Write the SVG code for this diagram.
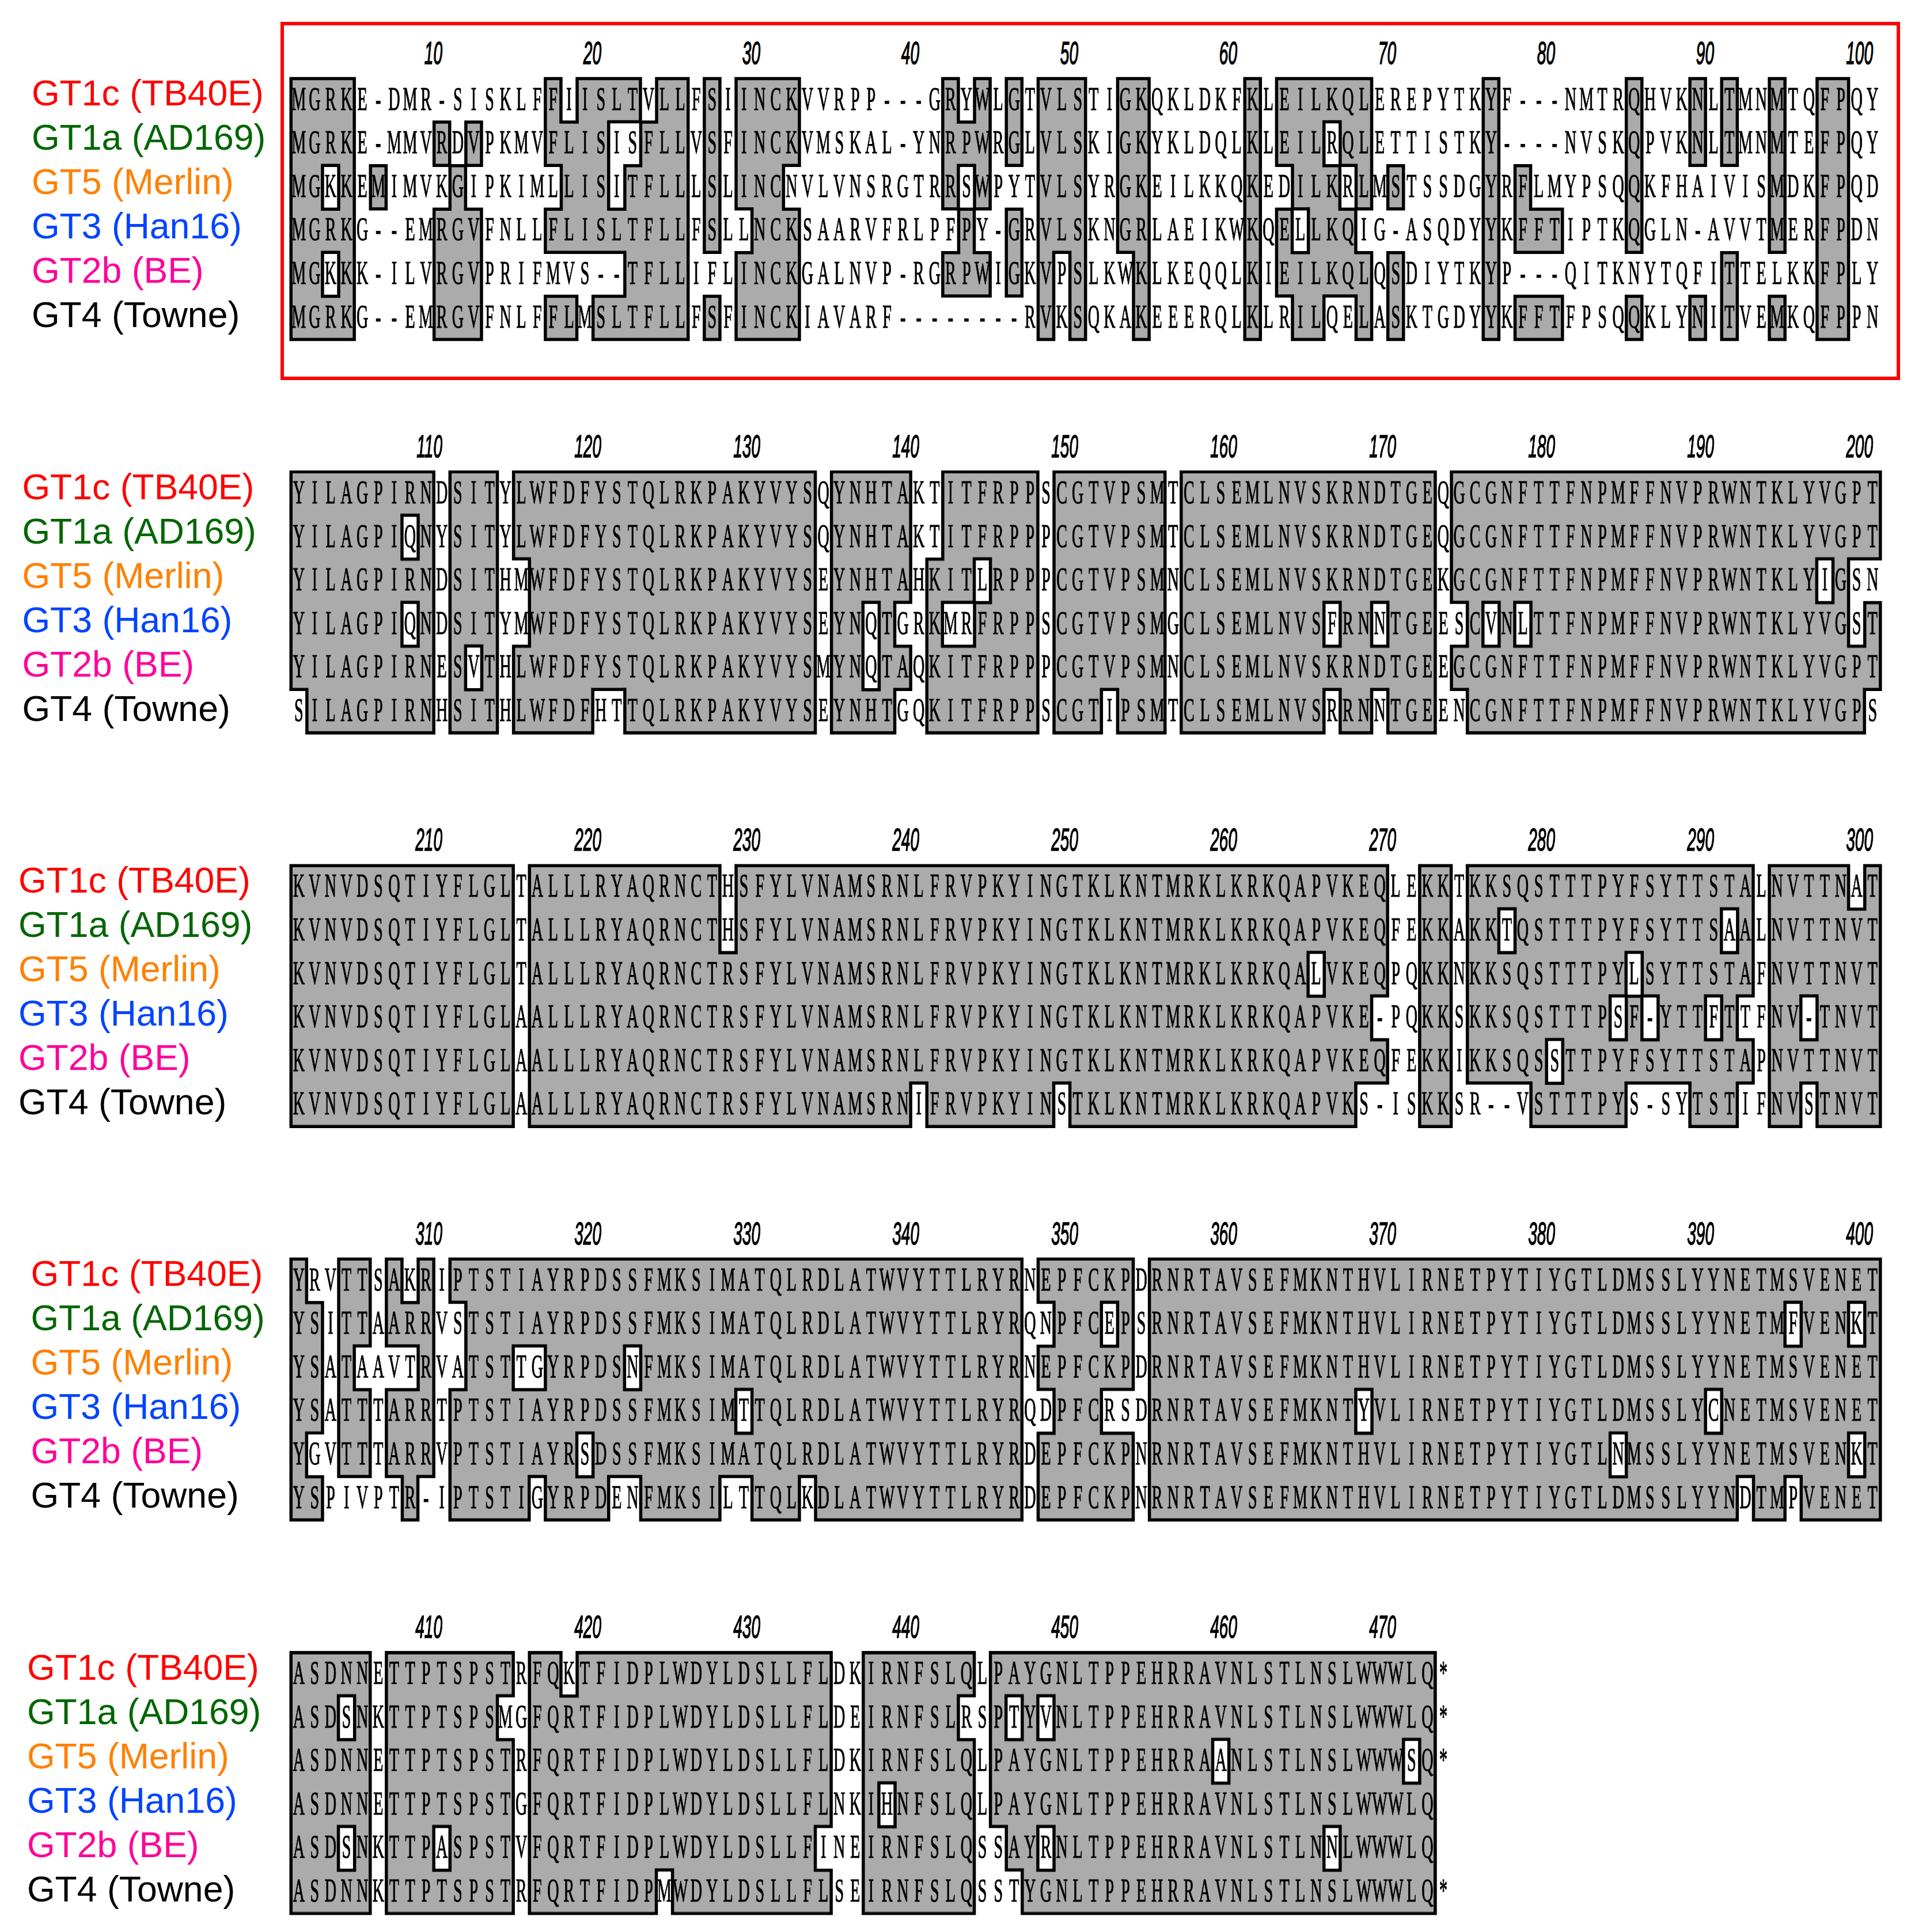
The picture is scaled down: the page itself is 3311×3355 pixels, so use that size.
<svg xmlns="http://www.w3.org/2000/svg" xmlns:xlink="http://www.w3.org/1999/xlink" width="3311" height="3355" viewBox="0 0 3311 3355">
<style>
.seq{font-family:"Liberation Serif","Times New Roman",serif;font-size:56px;fill:#000;stroke:#000;stroke-width:1.2;text-anchor:middle}
.num{font-family:"Liberation Sans",Arial,sans-serif;font-size:56px;font-style:italic;text-anchor:end;fill:#000;stroke:#000;stroke-width:1.6}
.lab{font-family:"Liberation Sans",Arial,sans-serif;font-size:62.5px}
.ol{fill:#000;stroke:#000;stroke-width:5;stroke-linejoin:miter}
.fi{fill:#ABABAB}
</style>
<defs>
<filter id="er" filterUnits="userSpaceOnUse" x="0" y="0" width="3311" height="3355"><feMorphology operator="erode" radius="2.5"/></filter>
<path id="s1" vector-effect="non-scaling-stroke" d="M0 0h2v6h-2z M2 0h1v2h-1z M2 3h1v1h-1z M2 5h1v1h-1z M3 0h1v6h-1z M5 2h1v1h-1z M9 1h1v1h-1z M9 3h1v3h-1z M10 2h1v4h-1z M11 1h1v1h-1z M11 3h1v3h-1z M16 0h1v2h-1z M16 3h1v1h-1z M16 5h1v1h-1z M17 1h1v3h-1z M17 5h1v1h-1z M18 0h1v4h-1z M19 0h1v4h-1z M19 5h1v1h-1z M20 0h1v1h-1z M20 3h1v1h-1z M20 5h1v1h-1z M21 0h1v1h-1z M21 2h1v4h-1z M22 1h1v5h-1z M23 0h2v6h-2z M26 0h1v4h-1z M26 5h1v1h-1z M28 0h1v3h-1z M28 4h1v2h-1z M29 0h2v6h-2z M31 0h1v2h-1z M31 3h1v3h-1z M41 0h1v3h-1z M41 4h1v1h-1z M42 1h1v1h-1z M42 3h1v2h-1z M43 0h1v3h-1z M43 4h1v1h-1z M45 0h1v2h-1z M45 3h1v2h-1z M47 0h1v6h-1z M48 0h1v4h-1z M49 0h1v6h-1z M52 0h1v4h-1z M53 0h1v6h-1z M60 0h1v6h-1z M62 0h1v2h-1z M62 3h1v2h-1z M63 0h1v3h-1z M63 4h1v2h-1z M64 0h1v6h-1z M65 0h1v1h-1z M65 2h1v3h-1z M66 0h1v2h-1z M66 3h1v2h-1z M67 0h1v3h-1z M67 4h1v2h-1z M69 2h1v1h-1z M69 4h1v2h-1z M75 0h1v6h-1z M77 2h1v2h-1z M77 5h1v1h-1z M78 3h2v1h-2z M78 5h2v1h-2z M84 0h1v4h-1z M84 5h1v1h-1z M88 0h1v2h-1z M88 5h1v1h-1z M90 0h1v2h-1z M90 4h1v2h-1z M93 0h1v4h-1z M93 5h1v1h-1z M96 0h2v6h-2z"/>
<path id="s2" vector-effect="non-scaling-stroke" d="M0 0h1v5h-1z M1 0h6v6h-6z M7 0h1v1h-1z M7 2h1v1h-1z M7 4h1v2h-1z M8 0h1v6h-1z M10 0h1v6h-1z M11 0h1v4h-1z M11 5h1v1h-1z M12 0h1v6h-1z M14 0h1v2h-1z M14 4h1v2h-1z M15 0h4v6h-4z M19 0h2v5h-2z M21 0h12v6h-12z M34 0h2v6h-2z M36 0h1v3h-1z M36 5h1v1h-1z M37 0h1v6h-1z M38 0h1v3h-1z M38 4h1v1h-1z M40 2h1v4h-1z M41 0h2v3h-2z M41 4h2v2h-2z M43 0h1v2h-1z M43 3h1v3h-1z M44 0h3v6h-3z M48 0h3v6h-3z M51 0h1v5h-1z M52 0h3v6h-3z M56 0h9v6h-9z M65 0h1v3h-1z M65 4h1v1h-1z M66 0h2v6h-2z M68 0h1v3h-1z M68 4h1v1h-1z M69 0h3v6h-3z M73 0h1v3h-1z M73 4h1v1h-1z M74 0h1v6h-1z M75 0h1v3h-1z M75 4h1v2h-1z M76 0h1v6h-1z M77 0h1v3h-1z M77 4h1v2h-1z M78 0h18v6h-18z M96 0h1v2h-1z M96 3h1v3h-1z M97 0h1v6h-1z M98 0h1v2h-1z M98 4h1v2h-1z M99 0h1v2h-1z M99 3h1v2h-1z"/>
<path id="s3" vector-effect="non-scaling-stroke" d="M0 0h14v6h-14z M15 0h12v6h-12z M27 2h1v4h-1z M28 0h11v6h-11z M39 0h1v5h-1z M40 0h8v6h-8z M48 0h1v5h-1z M49 0h15v6h-15z M64 0h1v2h-1z M64 3h1v3h-1z M65 0h2v6h-2z M67 0h1v5h-1z M68 0h1v3h-1z M68 4h1v1h-1z M71 0h2v6h-2z M74 0h2v5h-2z M76 0h1v1h-1z M76 2h1v3h-1z M77 0h1v5h-1z M78 0h1v6h-1z M79 0h1v4h-1z M79 5h1v1h-1z M80 0h3v6h-3z M83 0h1v3h-1z M83 4h1v2h-1z M84 0h1v2h-1z M84 3h1v2h-1z M85 0h1v3h-1z M85 4h1v1h-1z M86 0h2v5h-2z M88 0h1v6h-1z M89 0h1v3h-1z M89 4h1v2h-1z M90 0h1v1h-1z M90 2h1v4h-1z M91 0h1v3h-1z M91 4h1v1h-1z M93 0h2v6h-2z M95 0h1v3h-1z M95 4h1v1h-1z M96 0h2v6h-2z M98 1h1v5h-1z M99 0h1v6h-1z"/>
<path id="s4" vector-effect="non-scaling-stroke" d="M0 0h1v6h-1z M1 1h1v3h-1z M1 5h1v1h-1z M3 0h1v5h-1z M4 0h1v2h-1z M4 3h1v2h-1z M6 0h1v2h-1z M6 3h1v2h-1z M7 1h1v1h-1z M7 3h1v3h-1z M8 0h1v5h-1z M10 0h1v1h-1z M10 3h1v3h-1z M11 0h3v6h-3z M14 0h1v2h-1z M14 3h1v3h-1z M15 0h1v2h-1z M15 3h1v2h-1z M16 0h2v6h-2z M18 0h1v4h-1z M18 5h1v1h-1z M19 0h1v6h-1z M20 0h1v5h-1z M21 0h1v2h-1z M21 3h1v2h-1z M22 0h5v6h-5z M27 0h1v5h-1z M28 0h1v3h-1z M28 4h1v1h-1z M29 0h3v6h-3z M32 0h1v5h-1z M33 0h13v6h-13z M47 0h1v1h-1z M47 2h1v1h-1z M47 4h1v2h-1z M48 0h3v6h-3z M51 0h1v1h-1z M51 2h1v1h-1z M51 4h1v2h-1z M52 0h1v3h-1z M52 4h1v2h-1z M54 0h13v6h-13z M67 0h1v3h-1z M67 4h1v2h-1z M68 0h15v6h-15z M83 0h1v4h-1z M83 5h1v1h-1z M84 0h5v6h-5z M89 0h1v3h-1z M89 4h1v2h-1z M90 0h1v6h-1z M91 0h1v5h-1z M92 0h2v6h-2z M94 0h1v1h-1z M94 2h1v3h-1z M95 0h3v6h-3z M98 0h1v1h-1z M98 2h1v2h-1z M98 5h1v1h-1z M99 0h1v6h-1z"/>
<path id="s5" vector-effect="non-scaling-stroke" d="M0 0h3v6h-3z M3 0h1v1h-1z M3 2h1v2h-1z M3 5h1v1h-1z M4 0h1v6h-1z M6 0h3v6h-3z M9 0h1v4h-1z M9 5h1v1h-1z M10 0h3v6h-3z M13 0h1v1h-1z M13 2h1v4h-1z M15 0h2v6h-2z M17 1h1v5h-1z M18 0h5v6h-5z M23 0h1v5h-1z M24 0h9v6h-9z M33 0h1v4h-1z M33 5h1v1h-1z M36 0h1v6h-1z M37 0h1v3h-1z M37 4h1v2h-1z M38 0h4v6h-4z M42 0h1v1h-1z M42 2h1v4h-1z M44 0h1v4h-1z M45 0h1v1h-1z M45 2h1v3h-1z M46 0h1v6h-1z M47 0h1v1h-1z M47 2h1v2h-1z M47 5h1v1h-1z M48 0h10v6h-10z M58 0h1v2h-1z M58 3h1v3h-1z M59 0h6v6h-6z M65 0h1v4h-1z M65 5h1v1h-1z M66 0h4v6h-4z M70 0h1v2h-1z M70 3h1v3h-1z M71 0h1v6h-1z"/>
</defs>
<rect width="3311" height="3355" fill="#fff"/>
<rect id="highlight-box" x="490" y="41" width="2806" height="616" fill="none" stroke="#FF0000" stroke-width="6"/>
<g id="shading">
<g id="shading-outline" class="ol">
<use href="#s1" transform="translate(505,136.2) scale(27.6,75.6)"/>
<use href="#s2" transform="translate(505,819.5) scale(27.6,75.6)"/>
<use href="#s3" transform="translate(505,1502.9) scale(27.6,75.6)"/>
<use href="#s4" transform="translate(505,2186.2) scale(27.6,75.6)"/>
<use href="#s5" transform="translate(505,2869.5) scale(27.6,75.6)"/>
</g>
<g id="shading-fill" class="fi" filter="url(#er)">
<use href="#s1" transform="translate(505,136.2) scale(27.6,75.6)"/>
<use href="#s2" transform="translate(505,819.5) scale(27.6,75.6)"/>
<use href="#s3" transform="translate(505,1502.9) scale(27.6,75.6)"/>
<use href="#s4" transform="translate(505,2186.2) scale(27.6,75.6)"/>
<use href="#s5" transform="translate(505,2869.5) scale(27.6,75.6)"/>
</g>
</g>
<g id="labels">
<g id="labels1" class="lab" transform="translate(55,183.2)">
<text y="0" fill="#FF0000">GT1c (TB40E)</text><text y="77" fill="#006600">GT1a (AD169)</text><text y="154" fill="#FF8000">GT5 (Merlin)</text><text y="231" fill="#0044FF">GT3 (Han16)</text><text y="308" fill="#FF0099">GT2b (BE)</text><text y="385" fill="#000">GT4 (Towne)</text>
</g>
<g id="labels2" class="lab" transform="translate(38.5,866.5)">
<text y="0" fill="#FF0000">GT1c (TB40E)</text><text y="77" fill="#006600">GT1a (AD169)</text><text y="154" fill="#FF8000">GT5 (Merlin)</text><text y="231" fill="#0044FF">GT3 (Han16)</text><text y="308" fill="#FF0099">GT2b (BE)</text><text y="385" fill="#000">GT4 (Towne)</text>
</g>
<g id="labels3" class="lab" transform="translate(32,1549.9)">
<text y="0" fill="#FF0000">GT1c (TB40E)</text><text y="77" fill="#006600">GT1a (AD169)</text><text y="154" fill="#FF8000">GT5 (Merlin)</text><text y="231" fill="#0044FF">GT3 (Han16)</text><text y="308" fill="#FF0099">GT2b (BE)</text><text y="385" fill="#000">GT4 (Towne)</text>
</g>
<g id="labels4" class="lab" transform="translate(53.5,2233.2)">
<text y="0" fill="#FF0000">GT1c (TB40E)</text><text y="77" fill="#006600">GT1a (AD169)</text><text y="154" fill="#FF8000">GT5 (Merlin)</text><text y="231" fill="#0044FF">GT3 (Han16)</text><text y="308" fill="#FF0099">GT2b (BE)</text><text y="385" fill="#000">GT4 (Towne)</text>
</g>
<g id="labels5" class="lab" transform="translate(47,2916.5)">
<text y="0" fill="#FF0000">GT1c (TB40E)</text><text y="77" fill="#006600">GT1a (AD169)</text><text y="154" fill="#FF8000">GT5 (Merlin)</text><text y="231" fill="#0044FF">GT3 (Han16)</text><text y="308" fill="#FF0099">GT2b (BE)</text><text y="385" fill="#000">GT4 (Towne)</text>
</g>
</g>
<g id="ruler">
<g class="num" transform="translate(0,110.7) scale(0.5,1)"><text x="1536">10</text><text x="2088">20</text><text x="2640">30</text><text x="3192">40</text><text x="3744">50</text><text x="4296">60</text><text x="4848">70</text><text x="5400">80</text><text x="5952">90</text><text x="6504">100</text></g>
<g class="num" transform="translate(0,794) scale(0.5,1)"><text x="1536">110</text><text x="2088">120</text><text x="2640">130</text><text x="3192">140</text><text x="3744">150</text><text x="4296">160</text><text x="4848">170</text><text x="5400">180</text><text x="5952">190</text><text x="6504">200</text></g>
<g class="num" transform="translate(0,1477.4) scale(0.5,1)"><text x="1536">210</text><text x="2088">220</text><text x="2640">230</text><text x="3192">240</text><text x="3744">250</text><text x="4296">260</text><text x="4848">270</text><text x="5400">280</text><text x="5952">290</text><text x="6504">300</text></g>
<g class="num" transform="translate(0,2160.7) scale(0.5,1)"><text x="1536">310</text><text x="2088">320</text><text x="2640">330</text><text x="3192">340</text><text x="3744">350</text><text x="4296">360</text><text x="4848">370</text><text x="5400">380</text><text x="5952">390</text><text x="6504">400</text></g>
<g class="num" transform="translate(0,2844) scale(0.5,1)"><text x="1536">410</text><text x="2088">420</text><text x="2640">430</text><text x="3192">440</text><text x="3744">450</text><text x="4296">460</text><text x="4848">470</text></g>
</g>
<g id="sequences">
<g id="seq1" class="seq" transform="translate(518.8,136.2) scale(0.50182,1)">
<text x="0 55 110 165 220 275 330 385 440 495 550 605 660 715 770 825 880 935 990 1045 1100 1155 1210 1265 1320 1375 1430 1485 1540 1595 1650 1705 1760 1815 1870 1925 1980 2035 2090 2145 2200 2255 2310 2365 2420 2475 2530 2585 2640 2695 2750 2805 2860 2915 2970 3025 3080 3135 3190 3245 3300 3355 3410 3465 3520 3575 3630 3685 3740 3795 3850 3905 3960 4015 4070 4125 4180 4235 4290 4345 4400 4455 4510 4565 4620 4675 4730 4785 4840 4895 4950 5005 5060 5115 5170 5225 5280 5335 5390 5445" y="54.5">MGRKE-DMR-SISKLFFIISLTVLLFSIINCKVVRPP---GRYWLGTVLSTIGKQKLDKFKLEILKQLEREPYTKYF---NMTRQHVKNLTMNMTQFPQY</text>
<text x="0 55 110 165 220 275 330 385 440 495 550 605 660 715 770 825 880 935 990 1045 1100 1155 1210 1265 1320 1375 1430 1485 1540 1595 1650 1705 1760 1815 1870 1925 1980 2035 2090 2145 2200 2255 2310 2365 2420 2475 2530 2585 2640 2695 2750 2805 2860 2915 2970 3025 3080 3135 3190 3245 3300 3355 3410 3465 3520 3575 3630 3685 3740 3795 3850 3905 3960 4015 4070 4125 4180 4235 4290 4345 4400 4455 4510 4565 4620 4675 4730 4785 4840 4895 4950 5005 5060 5115 5170 5225 5280 5335 5390 5445" y="130.1">MGRKE-MMVRDVPKMVFLISISFLLVSFINCKVMSKAL-YNRPWRGLVLSKIGKYKLDQLKLEILRQLETTISTKY----NVSKQPVKNLTMNMTEFPQY</text>
<text x="0 55 110 165 220 275 330 385 440 495 550 605 660 715 770 825 880 935 990 1045 1100 1155 1210 1265 1320 1375 1430 1485 1540 1595 1650 1705 1760 1815 1870 1925 1980 2035 2090 2145 2200 2255 2310 2365 2420 2475 2530 2585 2640 2695 2750 2805 2860 2915 2970 3025 3080 3135 3190 3245 3300 3355 3410 3465 3520 3575 3630 3685 3740 3795 3850 3905 3960 4015 4070 4125 4180 4235 4290 4345 4400 4455 4510 4565 4620 4675 4730 4785 4840 4895 4950 5005 5060 5115 5170 5225 5280 5335 5390 5445" y="205.7">MGKKEMIMVKGIPKIMLLISITFLLLSLINCNVLVNSRGTRRSWPYTVLSYRGKEILKKQKEDILKRLMSTSSDGYRFLMYPSQQKFHAIVISMDKFPQD</text>
<text x="0 55 110 165 220 275 330 385 440 495 550 605 660 715 770 825 880 935 990 1045 1100 1155 1210 1265 1320 1375 1430 1485 1540 1595 1650 1705 1760 1815 1870 1925 1980 2035 2090 2145 2200 2255 2310 2365 2420 2475 2530 2585 2640 2695 2750 2805 2860 2915 2970 3025 3080 3135 3190 3245 3300 3355 3410 3465 3520 3575 3630 3685 3740 3795 3850 3905 3960 4015 4070 4125 4180 4235 4290 4345 4400 4455 4510 4565 4620 4675 4730 4785 4840 4895 4950 5005 5060 5115 5170 5225 5280 5335 5390 5445" y="281.3">MGRKG--EMRGVFNLLFLISLTFLLFSLLNCKSAARVFRLPFPY-GRVLSKNGRLAEIKWKQELLKQIG-ASQDYYKFFTIPTKQGLN-AVVTMERFPDN</text>
<text x="0 55 110 165 220 275 330 385 440 495 550 605 660 715 770 825 880 935 990 1045 1100 1155 1210 1265 1320 1375 1430 1485 1540 1595 1650 1705 1760 1815 1870 1925 1980 2035 2090 2145 2200 2255 2310 2365 2420 2475 2530 2585 2640 2695 2750 2805 2860 2915 2970 3025 3080 3135 3190 3245 3300 3355 3410 3465 3520 3575 3630 3685 3740 3795 3850 3905 3960 4015 4070 4125 4180 4235 4290 4345 4400 4455 4510 4565 4620 4675 4730 4785 4840 4895 4950 5005 5060 5115 5170 5225 5280 5335 5390 5445" y="356.9">MGKKK-ILVRGVPRIFMVS--TFLLIFLINCKGALNVP-RGRPWIGKVPSLKWKLKEQQLKIEILKQLQSDIYTKYP---QITKNYTQFITTELKKFPLY</text>
<text x="0 55 110 165 220 275 330 385 440 495 550 605 660 715 770 825 880 935 990 1045 1100 1155 1210 1265 1320 1375 1430 1485 1540 1595 1650 1705 1760 1815 1870 1925 1980 2035 2090 2145 2200 2255 2310 2365 2420 2475 2530 2585 2640 2695 2750 2805 2860 2915 2970 3025 3080 3135 3190 3245 3300 3355 3410 3465 3520 3575 3630 3685 3740 3795 3850 3905 3960 4015 4070 4125 4180 4235 4290 4345 4400 4455 4510 4565 4620 4675 4730 4785 4840 4895 4950 5005 5060 5115 5170 5225 5280 5335 5390 5445" y="432.5">MGRKG--EMRGVFNLFFLMSLTFLLFSFINCKIAVARF--------RVKSQKAKEEERQLKLRILQELASKTGDYYKFFTFPSQQKLYNITVEMKQFPPN</text>
</g>
<g id="seq2" class="seq" transform="translate(518.8,819.5) scale(0.50182,1)">
<text x="0 55 110 165 220 275 330 385 440 495 550 605 660 715 770 825 880 935 990 1045 1100 1155 1210 1265 1320 1375 1430 1485 1540 1595 1650 1705 1760 1815 1870 1925 1980 2035 2090 2145 2200 2255 2310 2365 2420 2475 2530 2585 2640 2695 2750 2805 2860 2915 2970 3025 3080 3135 3190 3245 3300 3355 3410 3465 3520 3575 3630 3685 3740 3795 3850 3905 3960 4015 4070 4125 4180 4235 4290 4345 4400 4455 4510 4565 4620 4675 4730 4785 4840 4895 4950 5005 5060 5115 5170 5225 5280 5335 5390 5445" y="54.5">YILAGPIRNDSITYLWFDFYSTQLRKPAKYVYSQYNHTAKTITFRPPSCGTVPSMTCLSEMLNVSKRNDTGEQGCGNFTTFNPMFFNVPRWNTKLYVGPT</text>
<text x="0 55 110 165 220 275 330 385 440 495 550 605 660 715 770 825 880 935 990 1045 1100 1155 1210 1265 1320 1375 1430 1485 1540 1595 1650 1705 1760 1815 1870 1925 1980 2035 2090 2145 2200 2255 2310 2365 2420 2475 2530 2585 2640 2695 2750 2805 2860 2915 2970 3025 3080 3135 3190 3245 3300 3355 3410 3465 3520 3575 3630 3685 3740 3795 3850 3905 3960 4015 4070 4125 4180 4235 4290 4345 4400 4455 4510 4565 4620 4675 4730 4785 4840 4895 4950 5005 5060 5115 5170 5225 5280 5335 5390 5445" y="130.1">YILAGPIQNYSITYLWFDFYSTQLRKPAKYVYSQYNHTAKTITFRPPPCGTVPSMTCLSEMLNVSKRNDTGEQGCGNFTTFNPMFFNVPRWNTKLYVGPT</text>
<text x="0 55 110 165 220 275 330 385 440 495 550 605 660 715 770 825 880 935 990 1045 1100 1155 1210 1265 1320 1375 1430 1485 1540 1595 1650 1705 1760 1815 1870 1925 1980 2035 2090 2145 2200 2255 2310 2365 2420 2475 2530 2585 2640 2695 2750 2805 2860 2915 2970 3025 3080 3135 3190 3245 3300 3355 3410 3465 3520 3575 3630 3685 3740 3795 3850 3905 3960 4015 4070 4125 4180 4235 4290 4345 4400 4455 4510 4565 4620 4675 4730 4785 4840 4895 4950 5005 5060 5115 5170 5225 5280 5335 5390 5445" y="205.7">YILAGPIRNDSITHMWFDFYSTQLRKPAKYVYSEYNHTAHKITLRPPPCGTVPSMNCLSEMLNVSKRNDTGEKGCGNFTTFNPMFFNVPRWNTKLYIGSN</text>
<text x="0 55 110 165 220 275 330 385 440 495 550 605 660 715 770 825 880 935 990 1045 1100 1155 1210 1265 1320 1375 1430 1485 1540 1595 1650 1705 1760 1815 1870 1925 1980 2035 2090 2145 2200 2255 2310 2365 2420 2475 2530 2585 2640 2695 2750 2805 2860 2915 2970 3025 3080 3135 3190 3245 3300 3355 3410 3465 3520 3575 3630 3685 3740 3795 3850 3905 3960 4015 4070 4125 4180 4235 4290 4345 4400 4455 4510 4565 4620 4675 4730 4785 4840 4895 4950 5005 5060 5115 5170 5225 5280 5335 5390 5445" y="281.3">YILAGPIQNDSITYMWFDFYSTQLRKPAKYVYSEYNQTGRKMRFRPPSCGTVPSMGCLSEMLNVSFRNNTGEESCVNLTTFNPMFFNVPRWNTKLYVGST</text>
<text x="0 55 110 165 220 275 330 385 440 495 550 605 660 715 770 825 880 935 990 1045 1100 1155 1210 1265 1320 1375 1430 1485 1540 1595 1650 1705 1760 1815 1870 1925 1980 2035 2090 2145 2200 2255 2310 2365 2420 2475 2530 2585 2640 2695 2750 2805 2860 2915 2970 3025 3080 3135 3190 3245 3300 3355 3410 3465 3520 3575 3630 3685 3740 3795 3850 3905 3960 4015 4070 4125 4180 4235 4290 4345 4400 4455 4510 4565 4620 4675 4730 4785 4840 4895 4950 5005 5060 5115 5170 5225 5280 5335 5390 5445" y="356.9">YILAGPIRNESVTHLWFDFYSTQLRKPAKYVYSMYNQTAQKITFRPPPCGTVPSMNCLSEMLNVSKRNDTGEEGCGNFTTFNPMFFNVPRWNTKLYVGPT</text>
<text x="0 55 110 165 220 275 330 385 440 495 550 605 660 715 770 825 880 935 990 1045 1100 1155 1210 1265 1320 1375 1430 1485 1540 1595 1650 1705 1760 1815 1870 1925 1980 2035 2090 2145 2200 2255 2310 2365 2420 2475 2530 2585 2640 2695 2750 2805 2860 2915 2970 3025 3080 3135 3190 3245 3300 3355 3410 3465 3520 3575 3630 3685 3740 3795 3850 3905 3960 4015 4070 4125 4180 4235 4290 4345 4400 4455 4510 4565 4620 4675 4730 4785 4840 4895 4950 5005 5060 5115 5170 5225 5280 5335 5390 5445" y="432.5">SILAGPIRNHSITHLWFDFHTTQLRKPAKYVYSEYNHTGQKITFRPPSCGTIPSMTCLSEMLNVSRRNNTGEENCGNFTTFNPMFFNVPRWNTKLYVGPS</text>
</g>
<g id="seq3" class="seq" transform="translate(518.8,1502.9) scale(0.50182,1)">
<text x="0 55 110 165 220 275 330 385 440 495 550 605 660 715 770 825 880 935 990 1045 1100 1155 1210 1265 1320 1375 1430 1485 1540 1595 1650 1705 1760 1815 1870 1925 1980 2035 2090 2145 2200 2255 2310 2365 2420 2475 2530 2585 2640 2695 2750 2805 2860 2915 2970 3025 3080 3135 3190 3245 3300 3355 3410 3465 3520 3575 3630 3685 3740 3795 3850 3905 3960 4015 4070 4125 4180 4235 4290 4345 4400 4455 4510 4565 4620 4675 4730 4785 4840 4895 4950 5005 5060 5115 5170 5225 5280 5335 5390 5445" y="54.5">KVNVDSQTIYFLGLTALLLRYAQRNCTHSFYLVNAMSRNLFRVPKYINGTKLKNTMRKLKRKQAPVKEQLEKKTKKSQSTTTPYFSYTTSTALNVTTNAT</text>
<text x="0 55 110 165 220 275 330 385 440 495 550 605 660 715 770 825 880 935 990 1045 1100 1155 1210 1265 1320 1375 1430 1485 1540 1595 1650 1705 1760 1815 1870 1925 1980 2035 2090 2145 2200 2255 2310 2365 2420 2475 2530 2585 2640 2695 2750 2805 2860 2915 2970 3025 3080 3135 3190 3245 3300 3355 3410 3465 3520 3575 3630 3685 3740 3795 3850 3905 3960 4015 4070 4125 4180 4235 4290 4345 4400 4455 4510 4565 4620 4675 4730 4785 4840 4895 4950 5005 5060 5115 5170 5225 5280 5335 5390 5445" y="130.1">KVNVDSQTIYFLGLTALLLRYAQRNCTHSFYLVNAMSRNLFRVPKYINGTKLKNTMRKLKRKQAPVKEQFEKKAKKTQSTTTPYFSYTTSAALNVTTNVT</text>
<text x="0 55 110 165 220 275 330 385 440 495 550 605 660 715 770 825 880 935 990 1045 1100 1155 1210 1265 1320 1375 1430 1485 1540 1595 1650 1705 1760 1815 1870 1925 1980 2035 2090 2145 2200 2255 2310 2365 2420 2475 2530 2585 2640 2695 2750 2805 2860 2915 2970 3025 3080 3135 3190 3245 3300 3355 3410 3465 3520 3575 3630 3685 3740 3795 3850 3905 3960 4015 4070 4125 4180 4235 4290 4345 4400 4455 4510 4565 4620 4675 4730 4785 4840 4895 4950 5005 5060 5115 5170 5225 5280 5335 5390 5445" y="205.7">KVNVDSQTIYFLGLTALLLRYAQRNCTRSFYLVNAMSRNLFRVPKYINGTKLKNTMRKLKRKQALVKEQPQKKNKKSQSTTTPYLSYTTSTAFNVTTNVT</text>
<text x="0 55 110 165 220 275 330 385 440 495 550 605 660 715 770 825 880 935 990 1045 1100 1155 1210 1265 1320 1375 1430 1485 1540 1595 1650 1705 1760 1815 1870 1925 1980 2035 2090 2145 2200 2255 2310 2365 2420 2475 2530 2585 2640 2695 2750 2805 2860 2915 2970 3025 3080 3135 3190 3245 3300 3355 3410 3465 3520 3575 3630 3685 3740 3795 3850 3905 3960 4015 4070 4125 4180 4235 4290 4345 4400 4455 4510 4565 4620 4675 4730 4785 4840 4895 4950 5005 5060 5115 5170 5225 5280 5335 5390 5445" y="281.3">KVNVDSQTIYFLGLAALLLRYAQRNCTRSFYLVNAMSRNLFRVPKYINGTKLKNTMRKLKRKQAPVKE-PQKKSKKSQSTTTPSF-YTTFTTFNV-TNVT</text>
<text x="0 55 110 165 220 275 330 385 440 495 550 605 660 715 770 825 880 935 990 1045 1100 1155 1210 1265 1320 1375 1430 1485 1540 1595 1650 1705 1760 1815 1870 1925 1980 2035 2090 2145 2200 2255 2310 2365 2420 2475 2530 2585 2640 2695 2750 2805 2860 2915 2970 3025 3080 3135 3190 3245 3300 3355 3410 3465 3520 3575 3630 3685 3740 3795 3850 3905 3960 4015 4070 4125 4180 4235 4290 4345 4400 4455 4510 4565 4620 4675 4730 4785 4840 4895 4950 5005 5060 5115 5170 5225 5280 5335 5390 5445" y="356.9">KVNVDSQTIYFLGLAALLLRYAQRNCTRSFYLVNAMSRNLFRVPKYINGTKLKNTMRKLKRKQAPVKEQFEKKIKKSQSSTTPYFSYTTSTAPNVTTNVT</text>
<text x="0 55 110 165 220 275 330 385 440 495 550 605 660 715 770 825 880 935 990 1045 1100 1155 1210 1265 1320 1375 1430 1485 1540 1595 1650 1705 1760 1815 1870 1925 1980 2035 2090 2145 2200 2255 2310 2365 2420 2475 2530 2585 2640 2695 2750 2805 2860 2915 2970 3025 3080 3135 3190 3245 3300 3355 3410 3465 3520 3575 3630 3685 3740 3795 3850 3905 3960 4015 4070 4125 4180 4235 4290 4345 4400 4455 4510 4565 4620 4675 4730 4785 4840 4895 4950 5005 5060 5115 5170 5225 5280 5335 5390 5445" y="432.5">KVNVDSQTIYFLGLAALLLRYAQRNCTRSFYLVNAMSRNIFRVPKYINSTKLKNTMRKLKRKQAPVKS-ISKKSR--VSTTTPYS-SYTSTIFNVSTNVT</text>
</g>
<g id="seq4" class="seq" transform="translate(518.8,2186.2) scale(0.50182,1)">
<text x="0 55 110 165 220 275 330 385 440 495 550 605 660 715 770 825 880 935 990 1045 1100 1155 1210 1265 1320 1375 1430 1485 1540 1595 1650 1705 1760 1815 1870 1925 1980 2035 2090 2145 2200 2255 2310 2365 2420 2475 2530 2585 2640 2695 2750 2805 2860 2915 2970 3025 3080 3135 3190 3245 3300 3355 3410 3465 3520 3575 3630 3685 3740 3795 3850 3905 3960 4015 4070 4125 4180 4235 4290 4345 4400 4455 4510 4565 4620 4675 4730 4785 4840 4895 4950 5005 5060 5115 5170 5225 5280 5335 5390 5445" y="54.5">YRVTTSAKRIPTSTIAYRPDSSFMKSIMATQLRDLATWVYTTLRYRNEPFCKPDRNRTAVSEFMKNTHVLIRNETPYTIYGTLDMSSLYYNETMSVENET</text>
<text x="0 55 110 165 220 275 330 385 440 495 550 605 660 715 770 825 880 935 990 1045 1100 1155 1210 1265 1320 1375 1430 1485 1540 1595 1650 1705 1760 1815 1870 1925 1980 2035 2090 2145 2200 2255 2310 2365 2420 2475 2530 2585 2640 2695 2750 2805 2860 2915 2970 3025 3080 3135 3190 3245 3300 3355 3410 3465 3520 3575 3630 3685 3740 3795 3850 3905 3960 4015 4070 4125 4180 4235 4290 4345 4400 4455 4510 4565 4620 4675 4730 4785 4840 4895 4950 5005 5060 5115 5170 5225 5280 5335 5390 5445" y="130.1">YSITTAARRVSTSTIAYRPDSSFMKSIMATQLRDLATWVYTTLRYRQNPFCEPSRNRTAVSEFMKNTHVLIRNETPYTIYGTLDMSSLYYNETMFVENKT</text>
<text x="0 55 110 165 220 275 330 385 440 495 550 605 660 715 770 825 880 935 990 1045 1100 1155 1210 1265 1320 1375 1430 1485 1540 1595 1650 1705 1760 1815 1870 1925 1980 2035 2090 2145 2200 2255 2310 2365 2420 2475 2530 2585 2640 2695 2750 2805 2860 2915 2970 3025 3080 3135 3190 3245 3300 3355 3410 3465 3520 3575 3630 3685 3740 3795 3850 3905 3960 4015 4070 4125 4180 4235 4290 4345 4400 4455 4510 4565 4620 4675 4730 4785 4840 4895 4950 5005 5060 5115 5170 5225 5280 5335 5390 5445" y="205.7">YSATAAVTRVATSTTGYRPDSNFMKSIMATQLRDLATWVYTTLRYRNEPFCKPDRNRTAVSEFMKNTHVLIRNETPYTIYGTLDMSSLYYNETMSVENET</text>
<text x="0 55 110 165 220 275 330 385 440 495 550 605 660 715 770 825 880 935 990 1045 1100 1155 1210 1265 1320 1375 1430 1485 1540 1595 1650 1705 1760 1815 1870 1925 1980 2035 2090 2145 2200 2255 2310 2365 2420 2475 2530 2585 2640 2695 2750 2805 2860 2915 2970 3025 3080 3135 3190 3245 3300 3355 3410 3465 3520 3575 3630 3685 3740 3795 3850 3905 3960 4015 4070 4125 4180 4235 4290 4345 4400 4455 4510 4565 4620 4675 4730 4785 4840 4895 4950 5005 5060 5115 5170 5225 5280 5335 5390 5445" y="281.3">YSATTTARRTPTSTIAYRPDSSFMKSIMTTQLRDLATWVYTTLRYRQDPFCRSDRNRTAVSEFMKNTYVLIRNETPYTIYGTLDMSSLYCNETMSVENET</text>
<text x="0 55 110 165 220 275 330 385 440 495 550 605 660 715 770 825 880 935 990 1045 1100 1155 1210 1265 1320 1375 1430 1485 1540 1595 1650 1705 1760 1815 1870 1925 1980 2035 2090 2145 2200 2255 2310 2365 2420 2475 2530 2585 2640 2695 2750 2805 2860 2915 2970 3025 3080 3135 3190 3245 3300 3355 3410 3465 3520 3575 3630 3685 3740 3795 3850 3905 3960 4015 4070 4125 4180 4235 4290 4345 4400 4455 4510 4565 4620 4675 4730 4785 4840 4895 4950 5005 5060 5115 5170 5225 5280 5335 5390 5445" y="356.9">YGVTTTARRVPTSTIAYRSDSSFMKSIMATQLRDLATWVYTTLRYRDEPFCKPNRNRTAVSEFMKNTHVLIRNETPYTIYGTLNMSSLYYNETMSVENKT</text>
<text x="0 55 110 165 220 275 330 385 440 495 550 605 660 715 770 825 880 935 990 1045 1100 1155 1210 1265 1320 1375 1430 1485 1540 1595 1650 1705 1760 1815 1870 1925 1980 2035 2090 2145 2200 2255 2310 2365 2420 2475 2530 2585 2640 2695 2750 2805 2860 2915 2970 3025 3080 3135 3190 3245 3300 3355 3410 3465 3520 3575 3630 3685 3740 3795 3850 3905 3960 4015 4070 4125 4180 4235 4290 4345 4400 4455 4510 4565 4620 4675 4730 4785 4840 4895 4950 5005 5060 5115 5170 5225 5280 5335 5390 5445" y="432.5">YSPIVPTR-IPTSTIGYRPDENFMKSILTTQLKDLATWVYTTLRYRDEPFCKPNRNRTAVSEFMKNTHVLIRNETPYTIYGTLDMSSLYYNDTMPVENET</text>
</g>
<g id="seq5" class="seq" transform="translate(518.8,2869.5) scale(0.50182,1)">
<text x="0 55 110 165 220 275 330 385 440 495 550 605 660 715 770 825 880 935 990 1045 1100 1155 1210 1265 1320 1375 1430 1485 1540 1595 1650 1705 1760 1815 1870 1925 1980 2035 2090 2145 2200 2255 2310 2365 2420 2475 2530 2585 2640 2695 2750 2805 2860 2915 2970 3025 3080 3135 3190 3245 3300 3355 3410 3465 3520 3575 3630 3685 3740 3795 3850 3905 3960" y="54.5">ASDNNETTPTSPSTRFQKTFIDPLWDYLDSLLFLDKIRNFSLQLPAYGNLTPPEHRRAVNLSTLNSLWWWLQ*</text>
<text x="0 55 110 165 220 275 330 385 440 495 550 605 660 715 770 825 880 935 990 1045 1100 1155 1210 1265 1320 1375 1430 1485 1540 1595 1650 1705 1760 1815 1870 1925 1980 2035 2090 2145 2200 2255 2310 2365 2420 2475 2530 2585 2640 2695 2750 2805 2860 2915 2970 3025 3080 3135 3190 3245 3300 3355 3410 3465 3520 3575 3630 3685 3740 3795 3850 3905 3960" y="130.1">ASDSNKTTPTSPSMGFQRTFIDPLWDYLDSLLFLDEIRNFSLRSPTYVNLTPPEHRRAVNLSTLNSLWWWLQ*</text>
<text x="0 55 110 165 220 275 330 385 440 495 550 605 660 715 770 825 880 935 990 1045 1100 1155 1210 1265 1320 1375 1430 1485 1540 1595 1650 1705 1760 1815 1870 1925 1980 2035 2090 2145 2200 2255 2310 2365 2420 2475 2530 2585 2640 2695 2750 2805 2860 2915 2970 3025 3080 3135 3190 3245 3300 3355 3410 3465 3520 3575 3630 3685 3740 3795 3850 3905 3960" y="205.7">ASDNNETTPTSPSTRFQRTFIDPLWDYLDSLLFLDKIRNFSLQLPAYGNLTPPEHRRAANLSTLNSLWWWSQ*</text>
<text x="0 55 110 165 220 275 330 385 440 495 550 605 660 715 770 825 880 935 990 1045 1100 1155 1210 1265 1320 1375 1430 1485 1540 1595 1650 1705 1760 1815 1870 1925 1980 2035 2090 2145 2200 2255 2310 2365 2420 2475 2530 2585 2640 2695 2750 2805 2860 2915 2970 3025 3080 3135 3190 3245 3300 3355 3410 3465 3520 3575 3630 3685 3740 3795 3850 3905 3960" y="281.3">ASDNNETTPTSPSTGFQRTFIDPLWDYLDSLLFLNKIHNFSLQLPAYGNLTPPEHRRAVNLSTLNSLWWWLQ</text>
<text x="0 55 110 165 220 275 330 385 440 495 550 605 660 715 770 825 880 935 990 1045 1100 1155 1210 1265 1320 1375 1430 1485 1540 1595 1650 1705 1760 1815 1870 1925 1980 2035 2090 2145 2200 2255 2310 2365 2420 2475 2530 2585 2640 2695 2750 2805 2860 2915 2970 3025 3080 3135 3190 3245 3300 3355 3410 3465 3520 3575 3630 3685 3740 3795 3850 3905 3960" y="356.9">ASDSNKTTPASPSTVFQRTFIDPLWDYLDSLLFINEIRNFSLQSSAYRNLTPPEHRRAVNLSTLNNLWWWLQ</text>
<text x="0 55 110 165 220 275 330 385 440 495 550 605 660 715 770 825 880 935 990 1045 1100 1155 1210 1265 1320 1375 1430 1485 1540 1595 1650 1705 1760 1815 1870 1925 1980 2035 2090 2145 2200 2255 2310 2365 2420 2475 2530 2585 2640 2695 2750 2805 2860 2915 2970 3025 3080 3135 3190 3245 3300 3355 3410 3465 3520 3575 3630 3685 3740 3795 3850 3905 3960" y="432.5">ASDNNKTTPTSPSTRFQRTFIDPMWDYLDSLLFLSEIRNFSLQSSTYGNLTPPEHRRAVNLSTLNSLWWWLQ*</text>
</g>
</g>
</svg>
